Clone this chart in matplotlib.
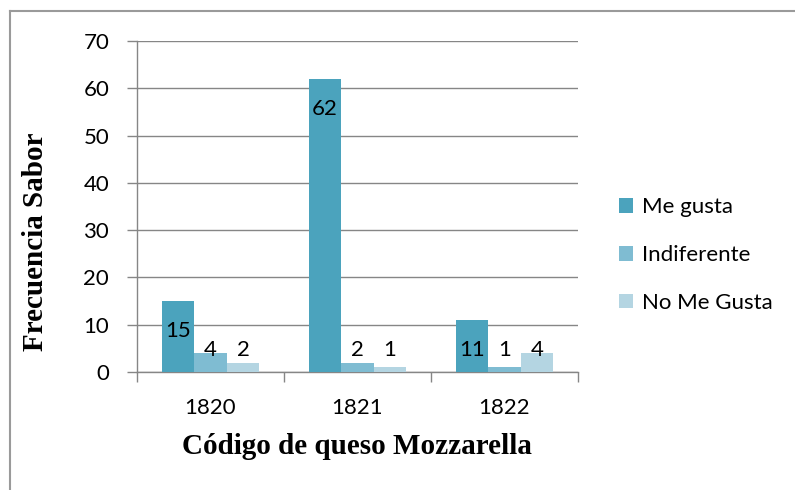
import matplotlib
matplotlib.use("Agg")
import matplotlib.pyplot as plt
import numpy as np
from matplotlib.lines import Line2D

categories = ["1820", "1821", "1822"]
series_names = ["Me gusta", "Indiferente", "No Me Gusta"]
me_gusta = [15, 62, 11]
indiferente = [4, 2, 1]
no_me_gusta = [2, 1, 4]
colors = ["#4BA3BD", "#7FBCD2", "#B4D5E2"]

series = [me_gusta, indiferente, no_me_gusta]

fig = plt.figure(figsize=(7.95, 4.9), dpi=100)
ax = fig.add_axes([137/795, 1-372/490, (578-137)/795, (372-41)/490])

x = np.arange(len(categories))
bw = 0.222
tick_font = "Lato"
fs = 16
for i, (vals, c, name) in enumerate(zip(series, colors, series_names)):
    pos = x + (i - 1) * bw
    ax.bar(pos, vals, width=bw, color=c, label=name, zorder=3)
    for p, v in zip(pos, vals):
        ly = max(v - 6.4, 4.6)
        ax.text(p, ly, str(v), ha="center", va="center", fontsize=fs,
                family=tick_font, color="black", zorder=4)

ax.set_xlim(-0.5, 2.5)
ax.set_ylim(0, 70)
ax.set_yticks(range(0, 71, 10))
ax.yaxis.grid(True, color="#868686", linewidth=1, zorder=0)
ax.set_axisbelow(True)
for s in ["top", "right"]:
    ax.spines[s].set_visible(False)
for s in ["left", "bottom"]:
    ax.spines[s].set_color("#868686")
    ax.spines[s].set_linewidth(1)
ax.set_xticks(x)
ax.set_xticklabels(categories)
ax.set_xticks([-0.5, 0.5, 1.5, 2.5], minor=True)
ax.tick_params(axis="x", which="major", length=0, pad=19, labelsize=fs)
ax.tick_params(axis="x", which="minor", length=7, color="#868686", width=1)
ax.tick_params(axis="y", length=7, color="#868686", width=1, labelsize=fs, pad=13)
for lab in ax.get_xticklabels() + ax.get_yticklabels():
    lab.set_family(tick_font)

fig.text(357/795, 1-447/490, "Código de queso Mozzarella", fontsize=21,
         fontweight="bold", family="Liberation Serif", ha="center", va="center")
fig.text(36/795, 1-242/490, "Frecuencia Sabor", fontsize=21, rotation=90,
         fontweight="bold", family="Liberation Serif", ha="center", va="center")

leg = fig.legend(loc="center left", bbox_to_anchor=(619/795, 1-255/490),
                 frameon=False, prop={"family": tick_font, "size": fs},
                 handlelength=0.65, handleheight=0.65, handletextpad=0.4,
                 labelspacing=1.25, borderaxespad=0, borderpad=0)

fig.add_artist(Line2D([10/795, 10/795], [0, 1-11/490], transform=fig.transFigure,
                      color="#9A9A9A", linewidth=1.5))
fig.add_artist(Line2D([10/795, 1], [1-11/490, 1-11/490], transform=fig.transFigure,
                      color="#9A9A9A", linewidth=1.5))

fig.savefig("out.png", dpi=100)
